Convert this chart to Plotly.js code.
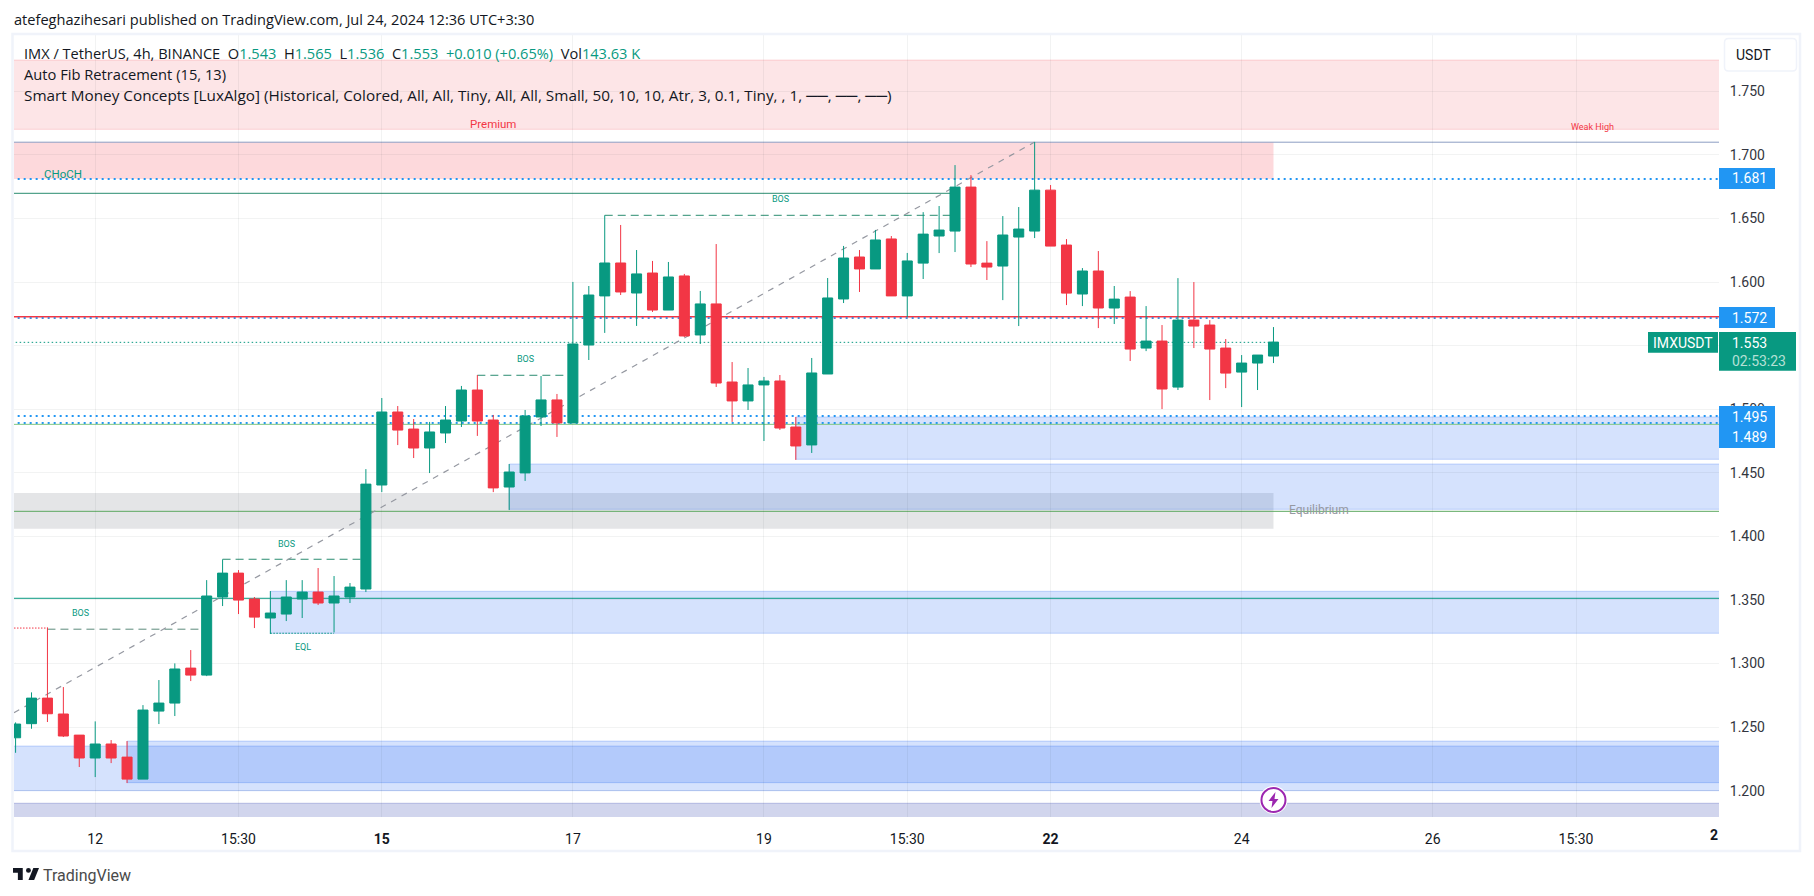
<!DOCTYPE html>
<html>
<head>
<meta charset="utf-8">
<script src="https://cdn.plot.ly/plotly-3.0.1.min.js"></script>
<style>html,body{margin:0;padding:0;background:#fff;overflow:hidden}</style>
</head>
<body>
<div id="chart" style="width:1814px;height:896px"></div>
<script>
// ---------- candles (bar index: 0 is the bar at the "12" tick, 6 bars per day) ----------
const barIndex = [-5,-4,-3,-2,-1,0,1,2,3,4,5,6,7,8,9,10,11,12,13,14,15,16,17,18,19,20,21,22,23,24,25,26,27,28,29,30,31,32,33,34,35,36,37,38,39,40,41,42,43,44,45,46,47,48,49,50,51,52,53,54,55,56,57,58,59,60,61,62,63,64,65,66,67,68,69,70,71,72,73,74];
const opens = [1.2416,1.2527,1.2728,1.2603,1.2437,1.2257,1.2367,1.2264,1.2091,1.2626,1.2689,1.2964,1.2909,1.3523,1.3711,1.3507,1.3358,1.3389,1.3507,1.3562,1.3476,1.3523,1.3586,1.4404,1.4978,1.4844,1.4695,1.4813,1.4907,1.5151,1.4915,1.4388,1.4499,1.4939,1.5073,1.4892,1.5505,1.5891,1.6150,1.5914,1.6071,1.5780,1.6048,1.5584,1.5828,1.5214,1.5065,1.5191,1.5222,1.4860,1.4719,1.5277,1.5867,1.6197,1.6103,1.6339,1.5891,1.6149,1.6362,1.6401,1.6747,1.6149,1.6126,1.6354,1.6401,1.6723,1.6291,1.5906,1.6087,1.5796,1.5882,1.5481,1.5536,1.5174,1.5701,1.5662,1.5481,1.5292,1.5363,1.5418];
const highs = [1.2537,1.2773,1.3284,1.2815,1.2437,1.2545,1.2398,1.2390,1.2673,1.2870,1.3001,1.3106,1.3656,1.3819,1.3735,1.3523,1.3570,1.3656,1.3656,1.3751,1.3688,1.3633,1.4529,1.5088,1.5025,1.4923,1.4900,1.5025,1.5183,1.5269,1.4955,1.4569,1.4994,1.5261,1.5120,1.6001,1.5969,1.6525,1.6449,1.6252,1.6166,1.6158,1.6064,1.5930,1.6299,1.5371,1.5324,1.5254,1.5269,1.4939,1.5403,1.6032,1.6284,1.6252,1.6410,1.6362,1.6229,1.6550,1.6598,1.6920,1.6841,1.6322,1.6519,1.6590,1.7101,1.6763,1.6338,1.6110,1.6244,1.5969,1.5929,1.5811,1.5662,1.6031,1.6000,1.5701,1.5552,1.5426,1.5426,1.5646];
const lows = [1.2298,1.2487,1.2540,1.2422,1.2186,1.2107,1.2217,1.2060,1.2091,1.2524,1.2587,1.2862,1.2901,1.3452,1.3389,1.3279,1.3232,1.3334,1.3358,1.3460,1.3245,1.3476,1.3562,1.4348,1.4718,1.4616,1.4498,1.4734,1.4860,1.4790,1.4348,1.4207,1.4436,1.4868,1.4782,1.4892,1.5387,1.5600,1.5898,1.5655,1.5765,1.5780,1.5568,1.5513,1.5175,1.4900,1.4994,1.4750,1.4837,1.4601,1.4656,1.5277,1.5835,1.5922,1.6103,1.5891,1.5725,1.6024,1.6228,1.6236,1.6118,1.6016,1.5858,1.5654,1.6346,1.6283,1.5819,1.5811,1.5638,1.5670,1.5379,1.5457,1.5001,1.5151,1.5481,1.5072,1.5166,1.5017,1.5151,1.5363];
const closes = [1.2524,1.2728,1.2605,1.2430,1.2257,1.2367,1.2257,1.2091,1.2634,1.2689,1.2957,1.2909,1.3531,1.3711,1.3499,1.3365,1.3397,1.3523,1.3562,1.3476,1.3531,1.3601,1.4411,1.4978,1.4836,1.4695,1.4821,1.4915,1.5151,1.4907,1.4381,1.4506,1.4947,1.5073,1.4892,1.5513,1.5898,1.6150,1.5922,1.6064,1.5780,1.6040,1.5576,1.5828,1.5206,1.5065,1.5191,1.5222,1.4852,1.4711,1.5285,1.5875,1.6189,1.6103,1.6331,1.5891,1.6166,1.6377,1.6409,1.6747,1.6142,1.6118,1.6370,1.6417,1.6723,1.6283,1.5913,1.6087,1.5796,1.5866,1.5473,1.5536,1.5159,1.5701,1.5654,1.5473,1.5284,1.5363,1.5426,1.5528];

// ---------- axes ----------
const xTickVals = [0,9,18,30,42,51,60,72,84,93];
const xTickText = ['12','15:30','<b>15</b>','17','19','15:30','<b>22</b>','24','26','15:30'];
const yTickVals = [1.2,1.25,1.3,1.35,1.4,1.45,1.5,1.55,1.6,1.65,1.7,1.75];
const xRange = [-5.1,101.98];
const yRange = [1.1793,1.7943];

// ---------- zones ----------
const zoneFrom   = [-6,-6,-6,44,26,11,-6,2,-6];
const zoneTo     = [110,74,74,110,110,110,110,110,110];
const zoneTop    = [1.7746,1.7100,1.4341,1.4939,1.4569,1.3568,1.2351,1.2390,1.1901];
const zoneBottom = [1.7201,1.6810,1.4060,1.4606,1.4213,1.3238,1.2000,1.2063,1.1700];
const zoneFill   = ['rgba(242,54,69,0.13)','rgba(242,54,69,0.19)','rgba(120,123,134,0.2)','rgba(33,100,243,0.19)','rgba(33,100,243,0.19)','rgba(33,100,243,0.19)','rgba(33,100,243,0.19)','rgba(33,100,243,0.19)','rgba(63,81,181,0.24)'];
const zoneEdge   = ['rgba(242,54,69,0.18)','rgba(0,0,0,0)','rgba(0,0,0,0)','rgba(33,100,243,0.24)','rgba(33,100,243,0.24)','rgba(33,100,243,0.24)','rgba(33,100,243,0.24)','rgba(33,100,243,0.24)','rgba(63,81,181,0.3)'];

// ---------- level lines ----------
const lineFrom  = [-6,-6,-6,-6,-6,-6,-6,-6,-6,-6,-6,32,24,8,-3,-5.1,11];
const lineTo    = [110,110,54,110,110,74,110,110,110,110,110,54,30,17,7,-3,15];
const linePrice = [1.7100,1.6810,1.6698,1.5727,1.5718,1.5526,1.4947,1.4891,1.4881,1.4197,1.3513,1.6525,1.5267,1.3820,1.3270,1.3279,1.3238];
const lineWidth = [1,2,1,1.5,2,1,2,2,1,1,1,1,1,1,1,1,1];
const lineColor = ['#8b9dc3','#2196f3','#2a8c70','#f23645','#4c88d6','#089981','#2196f3','#2196f3','#81c784','#5da860','#089981','#2a8c70','#2a8c70','#2a8c70','#5c8a7c','#f23645','#089981'];
const lineDash  = ['solid','2px,4px','solid','solid','2px,4px','1.5px,2.5px','2px,4px','2px,4px','solid','solid','solid','8px,5px','8px,5px','8px,5px','8px,5px','1.5px,1.5px','1.5px,1.5px'];

// ---------- auto fib diagonal ----------
const fibX = [-5.1,59];
const fibY = [1.2613,1.7101];

// ---------- right-hand price tags ----------
const tagText  = ['1.681','1.572','1.495','1.489'];
const tagTop   = [168,307,406,427];

const W=1814,H=896,L=14,R=1719,T=35,B=817;
const px=x=>(x-L)/(R-L), py=y=>1-(y-T)/(B-T);
const FONT='Roboto, sans-serif', HEAD='"Open Sans", sans-serif', INK='#131722', UP='#089981', DOWN='#f23645';

const shapes=[];
zoneFrom.forEach((_,i)=>shapes.push({type:'rect',layer:'below',x0:zoneFrom[i],x1:zoneTo[i],y0:zoneBottom[i],y1:zoneTop[i],fillcolor:zoneFill[i],line:{color:zoneEdge[i],width:1}}));
linePrice.forEach((_,i)=>shapes.push({type:'line',layer:'below',x0:lineFrom[i],x1:lineTo[i],y0:linePrice[i],y1:linePrice[i],line:{color:lineColor[i],width:lineWidth[i],dash:lineDash[i]}}));
shapes.push({type:'line',layer:'below',x0:fibX[0],x1:fibX[1],y0:fibY[0],y1:fibY[1],line:{color:'#9598a1',width:1.2,dash:'6px,6px'}});
// frame
shapes.push({type:'rect',xref:'paper',yref:'paper',layer:'above',x0:px(12.5),x1:px(1800),y0:py(851),y1:py(34),line:{color:'#f0f3fa',width:2.5}});
// USDT button
(function(){const a=1724.5,b=1796.5,c=38.5,d=71,r=4;
 const p=(x,y)=>px(x)+','+py(y);
 shapes.push({type:'path',xref:'paper',yref:'paper',layer:'above',fillcolor:'#fff',line:{color:'#f0f3fa',width:1.5},
  path:`M${p(a+r,c)} L${p(b-r,c)} Q${p(b,c)} ${p(b,c+r)} L${p(b,d-r)} Q${p(b,d)} ${p(b-r,d)} L${p(a+r,d)} Q${p(a,d)} ${p(a,d-r)} L${p(a,c+r)} Q${p(a,c)} ${p(a+r,c)} Z`});})();
// price tags
function box(x0,x1,y0,y1,c){shapes.push({type:'rect',xref:'paper',yref:'paper',layer:'above',x0:px(x0),x1:px(x1),y0:py(y1),y1:py(y0),fillcolor:c,line:{width:0}});}
tagText.forEach((_,i)=>box(1719,1775,tagTop[i],tagTop[i]+21,'#2196f3'));
box(1719,1796,332,370.7,UP);
box(1648,1718,332,352.7,UP);
// event marker
const evX=74,evY=1.1927;
function pixelCircle(r,fill,lw,lc){shapes.push({type:'circle',layer:'above',xsizemode:'pixel',ysizemode:'pixel',xanchor:evX,yanchor:evY,x0:-r,x1:r,y0:-r,y1:r,fillcolor:fill,line:{color:lc,width:lw}});}
pixelCircle(14,'#fff',0,'#fff');
pixelCircle(12,'#fff',2,'#9c27b0');
shapes.push({type:'path',layer:'above',xsizemode:'pixel',ysizemode:'pixel',xanchor:evX,yanchor:evY,fillcolor:'#9c27b0',line:{width:0},path:'M2,8 L-5,-1 L-1,-1 L-2,-8 L5,1 L1,1 Z'});
// TradingView logo
(function(){const q=(X,Y)=>px(13+(X-2)*.8125)+','+py(868+(Y-6)*.8);
 shapes.push({type:'path',xref:'paper',yref:'paper',fillcolor:INK,line:{width:0},path:`M${q(2,6)} L${q(14,6)} L${q(14,21)} L${q(8,21)} L${q(8,12)} L${q(2,12)} Z`});
 shapes.push({type:'path',xref:'paper',yref:'paper',fillcolor:INK,line:{width:0},path:`M${q(27,6)} L${q(34,6)} L${q(28,21)} L${q(21,21)} Z`});
 shapes.push({type:'circle',xref:'paper',yref:'paper',fillcolor:INK,line:{width:0},x0:px(13+16*.8125),x1:px(13+22*.8125),y0:py(868+6*.8),y1:py(868)});
})();

const ann=[];
function txt(x,y,text,size,color,anchor,family){ann.push({xref:'paper',yref:'paper',x:px(x),y:py(y),text,showarrow:false,xanchor:anchor||'left',yanchor:'middle',align:anchor||'left',borderpad:0,font:{family:family||FONT,size,color}});}
const g=s=>`<span style="color:${UP}">${s}</span>`;
txt(13,19,'atefeghazihesari published on TradingView.com, Jul 24, 2024 12:36 UTC+3:30',14.6,INK,'left',HEAD);
txt(23,53,`IMX / TetherUS, 4h, BINANCE  O${g('1.543')}  H${g('1.565')}  L${g('1.536')}  C${g('1.553')}  ${g('+0.010 (+0.65%)')}  Vol${g('143.63 K')}`,14.6,INK,'left',HEAD);
txt(23,74,'Auto Fib Retracement (15, 13)',14.7,INK,'left',HEAD);
txt(23,95,'Smart Money Concepts [LuxAlgo] (Historical, Colored, All, All, Tiny, All, All, Small, 50, 10, 10, Atr, 3, 0.1, Tiny, , 1, ──, ──, ──)',15.3,INK,'left',HEAD);
txt(42,875,'TradingView',16,'#4a4a4a');
txt(1735,54.5,'USDT',14,INK);
tagText.forEach((t,i)=>txt(1731,tagTop[i]+10.5,t,14,'#fff'));
txt(1731,342.5,'1.553',14,'#fff');
txt(1731,361,'02:53:23',14,'#b5e0d6');
txt(1683,342.5,'IMXUSDT',14,'#fff','center');
txt(1714,834.7,'<b>2</b>',14,INK,'center');
txt(62.5,173.5,'CHoCH',11.5,UP,'center');
txt(493,124,'Premium',11.5,DOWN,'center');
txt(1592,126.7,'Weak High',9,DOWN,'center');
txt(1319,510,'Equilibrium',12,'#9598a1','center');
txt(780,199,'BOS',9,UP,'center');
txt(525,359,'BOS',9,UP,'center');
txt(286.7,544,'BOS',9,UP,'center');
txt(80,613,'BOS',9,UP,'center');
txt(302.5,647,'EQL',9,UP,'center');

const trace={type:'candlestick',x:barIndex,open:opens,high:highs,low:lows,close:closes,whiskerwidth:0,hoverinfo:'skip',
 increasing:{line:{color:UP,width:1},fillcolor:UP},decreasing:{line:{color:DOWN,width:1},fillcolor:DOWN}};

const GRID='rgba(42,46,57,0.06)';
const layout={width:W,height:H,margin:{l:L,r:W-R,t:T,b:H-B,pad:0},paper_bgcolor:'#fff',plot_bgcolor:'#fff',showlegend:false,hovermode:false,dragmode:false,boxmode:'group',boxgap:0.37,boxgroupgap:0,
 font:{family:FONT,color:INK},
 xaxis:{range:xRange,tickmode:'array',tickvals:xTickVals,ticktext:xTickText,tickangle:0,showgrid:true,gridcolor:GRID,gridwidth:1,zeroline:false,showline:false,ticks:'outside',ticklen:9,tickcolor:'rgba(0,0,0,0)',tickfont:{family:FONT,size:14,color:INK},rangeslider:{visible:false},fixedrange:true},
 yaxis:{range:yRange,side:'right',tickmode:'array',tickvals:yTickVals,ticktext:yTickVals.map(v=>v.toFixed(3)),showgrid:true,gridcolor:GRID,gridwidth:1,zeroline:false,showline:false,ticks:'outside',ticklen:7,tickcolor:'rgba(0,0,0,0)',tickfont:{family:FONT,size:14,color:'#333640'},fixedrange:true},
 shapes,annotations:ann};
Plotly.newPlot('chart',[trace],layout,{displayModeBar:false,staticPlot:true});
</script>
</body>
</html>
